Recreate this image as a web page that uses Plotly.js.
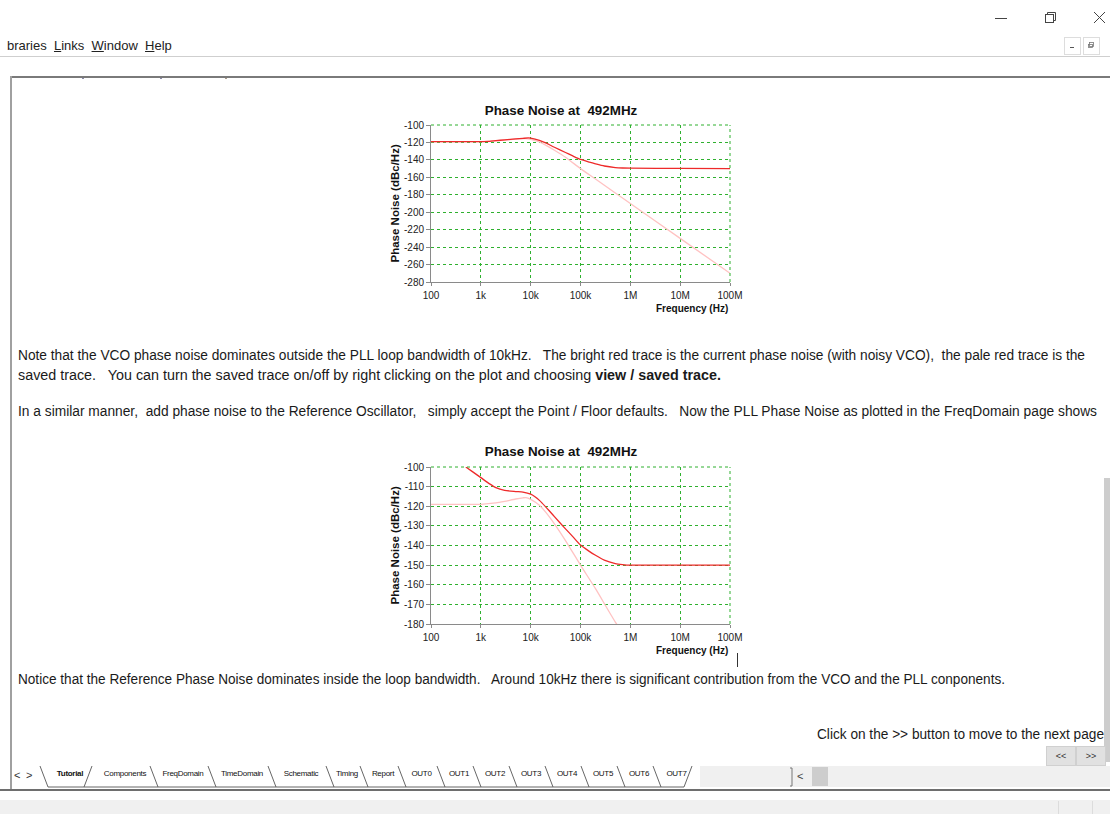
<!DOCTYPE html>
<html>
<head>
<meta charset="utf-8">
<script src="https://cdn.plot.ly/plotly-3.0.1.min.js"></script>
<style>
  html, body { margin:0; padding:0; }
  body { width:1110px; height:814px; position:relative; overflow:hidden; background:#fff;
         font-family:"Liberation Sans", Arial, sans-serif; color:#1a1a1a; }
  .abs { position:absolute; }
  .txt { position:absolute; white-space:pre; font-size:14px; line-height:16px; transform-origin:0 50%; }
  .menu { position:absolute; white-space:pre; font-size:13px; line-height:15px; color:#222; }
  .btn { position:absolute; background:#e1e1e1; border:1px solid #d0d0d0; font-size:9px; text-align:center; color:#333; }
  .tab { position:absolute; top:769px; font-size:8px; line-height:10px; white-space:pre; color:#111; letter-spacing:-0.3px; transform:translateX(-50%); }
</style>
</head>
<body>
<!-- window controls -->
<svg class="abs" style="left:0;top:0" width="1110" height="60">
  <line x1="995" y1="18.5" x2="1007" y2="18.5" stroke="#444" stroke-width="1"/>
  <rect x="1045.5" y="14.5" width="8" height="8" fill="none" stroke="#444"/>
  <polyline points="1047.5,14.5 1047.5,12.5 1055.5,12.5 1055.5,20.5 1053.5,20.5" fill="none" stroke="#444"/>
  <line x1="1094" y1="12" x2="1105" y2="23" stroke="#444" stroke-width="1"/>
  <line x1="1105" y1="12" x2="1094" y2="23" stroke="#444" stroke-width="1"/>
  <rect x="1064.5" y="37.5" width="16" height="17" fill="#fff" stroke="#ddd"/>
  <rect x="1083.5" y="37.5" width="16" height="17" fill="#fff" stroke="#ddd"/>
  <line x1="1070" y1="47.5" x2="1074" y2="47.5" stroke="#555"/>
  <rect x="1089.5" y="42.5" width="4" height="4" fill="none" stroke="#777" stroke-width="0.8"/>
  <rect x="1088.5" y="44.5" width="4" height="3" fill="none" stroke="#777" stroke-width="0.8"/>
</svg>
<div class="menu" style="left:7px;top:38px">braries  <u>L</u>inks  <u>W</u>indow  <u>H</u>elp</div>
<div class="abs" style="left:0;top:56px;width:1110px;height:1px;background:#cfcfcf"></div>
<!-- content frame -->
<div class="abs" style="left:10px;top:76px;width:1100px;height:2px;background:#7a7a7a"></div>
<div class="abs" style="left:10px;top:76px;width:2px;height:714px;background:#a0a0a0"></div>
<div class="abs" style="left:82px;top:78px;width:2px;height:1px;background:#8a8aa8"></div>
<div class="abs" style="left:160px;top:78px;width:2px;height:1px;background:#8a8aa8"></div>
<div class="abs" style="left:225px;top:78px;width:2px;height:1px;background:#a89a8a"></div>
<!-- scrollbar -->
<div class="abs" style="left:1104px;top:478px;width:6px;height:284px;background:#cdcdcd"></div>

<!-- charts -->
<div id="chart1" class="abs" style="left:380px;top:100px;width:372px;height:220px"></div>
<div id="chart2" class="abs" style="left:380px;top:440px;width:372px;height:220px"></div>
<div class="abs" style="left:737px;top:653px;width:1px;height:14px;background:#333"></div>

<!-- paragraphs -->
<div class="txt" id="t1" data-w="1067" style="left:18px;top:347px">Note that the VCO phase noise dominates outside the PLL loop bandwidth of 10kHz.   The bright red trace is the current phase noise (with noisy VCO),  the pale red trace is the</div>
<div class="txt" id="t2" data-w="703" style="left:18px;top:367px">saved trace.   You can turn the saved trace on/off by right clicking on the plot and choosing <b>view / saved trace.</b></div>
<div class="txt" id="t3" data-w="1079" style="left:18px;top:403px">In a similar manner,  add phase noise to the Reference Oscillator,   simply accept the Point / Floor defaults.   Now the PLL Phase Noise as plotted in the FreqDomain page shows</div>
<div class="txt" id="t4" data-w="987" style="left:18px;top:671px">Notice that the Reference Phase Noise dominates inside the loop bandwidth.   Around 10kHz there is significant contribution from the VCO and the PLL conponents.</div>
<div class="txt" id="t5" data-w="287" style="left:817px;top:726px">Click on the &gt;&gt; button to move to the next page</div>

<div class="btn" style="left:1046px;top:746px;width:28px;height:18px;line-height:18px">&lt;&lt;</div>
<div class="btn" style="left:1076px;top:746px;width:28px;height:18px;line-height:18px">&gt;&gt;</div>

<!-- tab strip -->
<div class="abs" style="left:700px;top:766px;width:410px;height:21px;background:#f0f0f0"></div>
<svg class="abs" id="tabsvg" style="left:0;top:760px" width="1110" height="54"></svg>
<div id="tabs"></div>
<div class="abs" style="left:0;top:789px;width:1110px;height:2px;background:#6e6e6e"></div>
<div class="abs" style="left:0;top:800px;width:1110px;height:14px;background:#f0f0f0"></div>
<div class="abs" style="left:1058px;top:801px;width:1px;height:13px;background:#dcdcdc"></div>
<div class="abs" style="left:1092px;top:801px;width:1px;height:13px;background:#dcdcdc"></div>

<script>
// ---------------- DATA ----------------
// Chart 1: VCO noise only
const freqCurrent1 = [100, 1000, 1500, 2000, 3000, 5000, 7000, 9000, 10000, 15000, 20000, 30000, 50000, 70000, 100000, 150000, 200000, 300000, 500000, 700000, 1000000, 10000000, 100000000];
const noiseCurrent1 = [-119, -119, -118.8, -118, -117, -116, -115.3, -114.8, -115, -117.5, -120.5, -125.5, -131.5, -135.5, -139.5, -142.5, -144.5, -147, -148.8, -149.3, -149.5, -149.8, -150];
const freqSaved1 = [100, 1000, 2000, 3000, 5000, 8000, 10000, 15000, 20000, 30000, 50000, 100000, 200000, 500000, 1000000, 10000000, 100000000];
const noiseSaved1 = [-119, -119, -118.3, -117.3, -116.2, -115.6, -116.5, -119.5, -123, -129, -137, -150, -162, -178, -190, -230, -270];

// Chart 2: with reference oscillator noise
const freqCurrent2 = [500, 700, 1000, 1500, 2000, 3000, 5000, 7000, 10000, 12000, 15000, 20000, 30000, 50000, 70000, 100000, 150000, 200000, 300000, 500000, 700000, 1000000, 10000000, 100000000];
const noiseCurrent2 = [-100, -102.6, -105.4, -108.6, -110.5, -111.9, -112.5, -112.8, -113.8, -115, -117, -120.3, -125.3, -131.5, -135.5, -139.8, -143, -145, -147.5, -149.2, -149.7, -150, -150, -150];
const freqSaved2 = [100, 1000, 2000, 3000, 5000, 7000, 8000, 10000, 15000, 20000, 30000, 50000, 100000, 200000, 500000, 1000000];
const noiseSaved2 = [-119, -119, -118.3, -117.5, -116.3, -115.7, -115.6, -116.5, -119.5, -123, -129, -137.5, -150, -162, -179, -190];

const xTickVals = [100, 1000, 10000, 100000, 1000000, 10000000, 100000000];
const xTickText = ['100', '1k', '10k', '100k', '1M', '10M', '100M'];
const yTickVals1 = [-100, -120, -140, -160, -180, -200, -220, -240, -260, -280];
const yTickText1 = ['-100', '-120', '-140', '-160', '-180', '-200', '-220', '-240', '-260', '-280'];
const yTickVals2 = [-100, -110, -120, -130, -140, -150, -160, -170, -180];
const yTickText2 = ['-100', '-110', '-120', '-130', '-140', '-150', '-160', '-170', '-180'];

const chartTitle = 'Phase Noise at\u00a0 492MHz';
const xTitle = 'Frequency (Hz)';
const yTitle = 'Phase Noise (dBc/Hz)';

// ---------------- STYLE ----------------
const FONT = '"Liberation Sans", Arial, sans-serif';
const GRID = '#2fb02f';
const BRIGHT = '#ee2a2a';
const PALE = '#ffc2c2';
const CHART_W = 372;

function buildChart(id, fc, nc, fs, ns, yRange, yVals, yText, marginTop, titleY) {
  const traces = [
    {x: fs, y: ns, type: 'scatter', mode: 'lines', line: {color: PALE, width: 1.3, shape: 'spline', smoothing: 0.6}, hoverinfo: 'skip'},
    {x: fc, y: nc, type: 'scatter', mode: 'lines', line: {color: BRIGHT, width: 1.3, shape: 'spline', smoothing: 0.6}, hoverinfo: 'skip'}
  ];
  const plotH = 157;
  const layout = {
    width: CHART_W, height: 220,
    margin: {l: 51, r: CHART_W - 51 - 299, t: marginTop, b: 220 - marginTop - plotH, pad: 0},
    paper_bgcolor: 'rgba(0,0,0,0)', plot_bgcolor: '#fff',
    showlegend: false,
    font: {family: FONT, size: 10, color: '#222'},
    title: {text: '<b>' + chartTitle + '</b>', font: {family: FONT, size: 13.4, color: '#111'},
            xref: 'container', x: (561 - 380) / CHART_W, xanchor: 'center', yref: 'container', y: titleY, yanchor: 'middle'},
    xaxis: {type: 'log', range: [2, 8], tickmode: 'array', tickvals: xTickVals, ticktext: xTickText,
            showgrid: true, gridcolor: GRID, griddash: 'dot', gridwidth: 1,
            showline: true, linecolor: '#8a8a8a', linewidth: 1, zeroline: false,
            ticks: 'outside', ticklen: 3, tickcolor: '#8a8a8a', ticklabelstandoff: 1,
            ticklabeloverflow: 'allow',
            tickfont: {family: FONT, size: 10, color: '#222'}, fixedrange: true},
    yaxis: {range: yRange, tickmode: 'array', tickvals: yVals, ticktext: yText,
            showgrid: true, gridcolor: GRID, griddash: 'dot', gridwidth: 1,
            showline: true, linecolor: '#8a8a8a', linewidth: 1, zeroline: false,
            ticks: 'outside', ticklen: 4, tickcolor: '#8a8a8a',
            tickfont: {family: FONT, size: 10, color: '#222'}, fixedrange: true},
    shapes: [
      {type: 'line', xref: 'paper', yref: 'paper', x0: 0, x1: 1, y0: 1, y1: 1, line: {color: GRID, width: 1, dash: 'dot'}},
      {type: 'line', xref: 'paper', yref: 'paper', x0: 1, x1: 1, y0: 0, y1: 1, line: {color: GRID, width: 1, dash: 'dot'}}
    ],
    annotations: [
      {text: '<b>' + xTitle + '</b>', xref: 'paper', yref: 'paper', x: 1, y: 0, xanchor: 'right', yanchor: 'middle',
       yshift: -26, showarrow: false, font: {family: FONT, size: 10, color: '#111'}},
      {text: '<b>' + yTitle + '</b>', xref: 'paper', yref: 'paper', x: 0, y: 0.5, xanchor: 'center', yanchor: 'middle',
       xshift: -37, textangle: -90, showarrow: false, font: {family: FONT, size: 11.5, color: '#111'}}
    ]
  };
  Plotly.newPlot(id, traces, layout, {staticPlot: true, displayModeBar: false});
}

buildChart('chart1', freqCurrent1, noiseCurrent1, freqSaved1, noiseSaved1, [-280, -100], yTickVals1, yTickText1, 25, 1 - 10.7 / 220);
buildChart('chart2', freqCurrent2, noiseCurrent2, freqSaved2, noiseSaved2, [-180, -100], yTickVals2, yTickText2, 27, 1 - 11.7 / 220);

// ---------------- chrome: fit text widths ----------------
document.querySelectorAll('.txt').forEach(el => {
  const target = parseFloat(el.dataset.w);
  const w = el.getBoundingClientRect().width;
  if (w > 0) el.style.transform = 'scaleX(' + (target / w) + ')';
});

// tabs
const tabNames = ['Tutorial', 'Components', 'FreqDomain', 'TimeDomain', 'Schematic', 'Timing', 'Report', 'OUT0', 'OUT1', 'OUT2', 'OUT3', 'OUT4', 'OUT5', 'OUT6', 'OUT7'];
const tabEdges = [40, 92, 150, 208, 268, 326, 360, 398, 437, 473, 509, 545, 581, 617, 653, 692];
const tabSvg = document.getElementById('tabsvg');
let tabPaths = '';
const tabTop = 6, tabBot = 27, tabSlant = 8;
tabPaths += `<line x1="${tabEdges[0] + tabSlant}" y1="${tabBot}" x2="${tabEdges[tabEdges.length - 1] - tabSlant}" y2="${tabBot}" stroke="#555" stroke-width="0.9"/>`;
for (let i = 0; i < tabEdges.length; i++) {
  const e = tabEdges[i];
  let pts;
  if (i === 1 || i === tabEdges.length - 1) {
    pts = `${e - tabSlant},${tabBot} ${e},${tabTop}`;
  } else {
    pts = `${e},${tabTop} ${e + tabSlant},${tabBot}`;
  }
  tabPaths += `<polyline points="${pts}" fill="none" stroke="#555" stroke-width="0.9"/>`;
}
tabPaths += '<text x="14" y="19" font-size="11" fill="#333" font-family="Liberation Sans">&lt;</text>';
tabPaths += '<text x="26" y="19" font-size="11" fill="#333" font-family="Liberation Sans">&gt;</text>';
tabPaths += '<polyline points="790,8 792,8 792,26 790,26" fill="none" stroke="#777"/>';
tabPaths += '<text x="797" y="20" font-size="11" fill="#444" font-family="Liberation Sans">&lt;</text>';
tabPaths += '<rect x="812" y="7" width="16" height="19" fill="#cdcdcd"/>';
tabSvg.innerHTML = tabPaths;
const tabsDiv = document.getElementById('tabs');
tabNames.forEach((n, i) => {
  const d = document.createElement('div');
  d.className = 'tab';
  d.textContent = n;
  d.style.left = ((tabEdges[i] + tabEdges[i + 1]) / 2 + 4) + 'px';
  if (i === 0) d.style.fontWeight = 'bold';
  tabsDiv.appendChild(d);
});
</script>
</body>
</html>
